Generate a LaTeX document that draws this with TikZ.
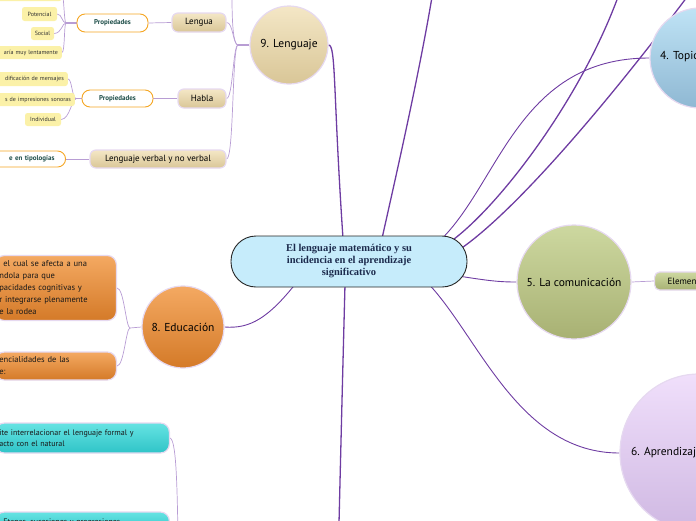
\documentclass[tikz,border=0pt]{standalone}
\usepackage{fontspec}
\setmainfont{PT Sans}
\newfontfamily\hubfont{Liberation Serif}
\usetikzlibrary{positioning,calc,backgrounds}
\definecolor{maincol}{HTML}{6E3CA2}
\definecolor{twigcol}{HTML}{B89DD4}
\definecolor{rimcol}{HTML}{E6D9F0}
\definecolor{skycol}{HTML}{C6ECFB}
\definecolor{hubtext}{HTML}{1C2B4D}
\definecolor{sandtop}{HTML}{F4E7C6}
\definecolor{sandbot}{HTML}{D9C697}
\definecolor{lemoncol}{HTML}{FBF1A8}
\definecolor{ambercol}{HTML}{F5A623}
\definecolor{tealtext}{HTML}{1F4F4A}
\definecolor{oratop}{HTML}{F4A962}
\definecolor{orabot}{HTML}{D47A28}
\definecolor{olivetop}{HTML}{CDD8A0}
\definecolor{olivebot}{HTML}{A8B173}
\definecolor{cyantop}{HTML}{66E3E3}
\definecolor{cyanbot}{HTML}{2FC4C7}
\definecolor{bluetop}{HTML}{BFE3F5}
\definecolor{bluebot}{HTML}{8FB8D3}
\definecolor{lilactop}{HTML}{F0DFFB}
\definecolor{lilacbot}{HTML}{CFB8E2}

\begin{document}
\begin{tikzpicture}[x=1pt,y=-1pt,
  hub/.style={draw=black!85,line width=0.9pt,fill=skycol,rounded corners=25pt,
    minimum width=236pt,minimum height=51pt,align=center,text=hubtext,
    font=\hubfont\bfseries\fontsize{10.5}{12}\selectfont},
  topic/.style={circle,draw=rimcol,line width=1.2pt,inner sep=0pt,font=\fontsize{11.5}{13}\selectfont},
  sandbox/.style={draw=rimcol,line width=1.2pt,rounded corners=6pt,top color=sandtop,
    bottom color=sandbot,inner sep=0pt,font=\fontsize{9}{11}\selectfont},
  propbox/.style={draw=ambercol,line width=0.9pt,fill=white,rounded corners=8pt,inner sep=0pt,
    text=tealtext,font=\bfseries\fontsize{7}{8}\selectfont},
  lemonbox/.style={fill=lemoncol,rounded corners=2.5pt,inner sep=0pt,text=black!80,
    font=\fontsize{6}{7}\selectfont},
  orabox/.style={draw=rimcol,line width=1.2pt,rounded corners=9pt,top color=oratop,
    bottom color=orabot,inner xsep=4pt,inner ysep=0pt,text=black!90,font=\fontsize{8.5}{12}\selectfont},
  cyanbox/.style={draw=rimcol,line width=1.2pt,rounded corners=9pt,top color=cyantop,
    bottom color=cyanbot,inner xsep=4pt,inner ysep=0pt,text=black!90,font=\fontsize{8}{11}\selectfont},
  olivebox/.style={draw=rimcol,line width=1.2pt,rounded corners=5pt,top color=olivetop,
    bottom color=olivebot,inner ysep=0pt,font=\fontsize{9}{11}\selectfont},
  mainline/.style={draw=maincol,line width=1.3pt},
  twig/.style={draw=twigcol,line width=0.7pt}]
\useasboundingbox (0,0) rectangle (696,520);

% centre
\node[hub] (hub) at (349,261.5) {El lenguaje matemático y su\\incidencia en el aprendizaje\\significativo};

% 9. Lenguaje and its children
\node[topic,minimum size=78pt,top color=sandtop,bottom color=sandbot] (lang) at (289,45) {9. Lenguaje};
\node[sandbox,minimum width=54pt,minimum height=19pt] (lengua) at (199,22.5) {Lengua};
\node[sandbox,minimum width=48pt,minimum height=19pt] (habla) at (202,98.5) {Habla};
\node[sandbox,minimum width=136pt,minimum height=18pt] (verbal) at (158,159) {Lenguaje verbal y no verbal};
\node[propbox,minimum width=71pt,minimum height=18pt] (propA) at (112.5,23) {Propiedades};
\node[propbox,minimum width=71pt,minimum height=17pt] (propB) at (117.5,98.5) {Propiedades};
\node[propbox,anchor=east,text width=80pt,align=right,inner xsep=11pt,minimum height=16pt] (tipos) at (66,159) {e en tipologías};
\node[lemonbox,anchor=east,minimum width=80pt,minimum height=14pt] (ltop) at (62,-6) {};
\node[lemonbox,minimum width=35pt,minimum height=14pt] (pot) at (39.5,14) {Potencial};
\node[lemonbox,minimum width=23pt,minimum height=13pt] (soc) at (42.5,33.5) {Social};
\node[lemonbox,anchor=east,text width=70pt,align=right,inner xsep=4pt,minimum height=13pt] (varia) at (62,52.5) {aría muy lentamente};
\node[lemonbox,anchor=east,text width=70pt,align=right,inner xsep=4pt,minimum height=14pt] (codif) at (68,79) {dificación de mensajes};
\node[lemonbox,anchor=east,text width=80pt,align=right,inner xsep=4pt,minimum height=13pt] (sonor) at (75,99.5) {s de impresiones sonoras};
\node[lemonbox,minimum width=36pt,minimum height=13pt] (indiv) at (43,119.5) {Individual};

% 8. Educación
\node[topic,minimum size=82pt,top color=oratop,bottom color=orabot] (edu) at (183,327) {8. Educación};
\node[orabox,anchor=east,text width=113pt,align=left,minimum height=65pt] (eduA) at (117,288)
  {\hspace*{4pt}el cual se afecta a una\\ndola para que\\pacidades cognitivas y\\r integrarse plenamente\\e la rodea};
\node[orabox,anchor=east,text width=113pt,align=left,minimum height=28pt] (eduB) at (117,366) {encialidades de las\\e:};

% bottom left
\node[cyanbox,anchor=east,text width=166pt,align=left,minimum height=30pt] (cyA) at (170,438)
  {ite interrelacionar el lenguaje formal y\\acto con el natural};
\node[cyanbox,anchor=east,text width=166pt,align=left,minimum height=21pt] (cyB) at (170,522.5)
  {\hspace*{4pt}Etapas, sucesiones y progresiones};

% right side
\node[topic,minimum size=114pt,top color=olivetop,bottom color=olivebot] (comm) at (574,282) {5. La comunicación};
\node[olivebox,anchor=west,text width=50pt,align=left,inner xsep=13pt,minimum height=18pt] (elem) at (654,281) {Elementos};
\node[topic,minimum size=100pt,top color=bluetop,bottom color=bluebot] (tpc) at (700,58) {};
\node[anchor=west,inner sep=0pt,font=\fontsize{11.5}{13}\selectfont] (tpctxt) at (660,57) {4. Topic};
\node[topic,minimum size=158pt,top color=lilactop,bottom color=lilacbot] (learn) at (699,453) {};
\node[anchor=west,inner sep=0pt,font=\fontsize{11.5}{13}\selectfont] (learntxt) at (631,453) {6. Aprendizaje};

% free ends and junctions
\coordinate (upA) at (432,-3);
\coordinate (upB) at (618,-3);
\coordinate (upC) at (687,-3);
\coordinate (upE) at (232,-3);
\coordinate (downD) at (339,523);
\coordinate (downF) at (178,535);
\coordinate (jL) at (238,45);
\coordinate (jA) at (66,23);
\coordinate (jB) at (76,98.5);
\coordinate (jE) at (130,328);

\begin{scope}[on background layer]
% branches from the centre
\draw[mainline] ($(hub.north)+(-6,3)$) .. controls (333,90) and (336,45) .. (lang.east);
\draw[mainline] ($(hub.north)+(33,3)$) .. controls (395,180) and (418,80) .. (upA);
\draw[mainline,line width=0.9pt] ($(hub.north)+(93,3)$) .. controls (500,180) and (520,58) .. (tpc.west);
\draw[mainline] ($(hub.north)+(103,5)$) .. controls (500,205) and (580,100) .. (upB);
\draw[mainline] ($(hub.north)+(112,13)$) .. controls (530,200) and (640,60) .. (upC);
\draw[mainline,line width=0.9pt] ($(hub.east)+(-9,14.5)$) .. controls (490,281) and (500,282) .. (comm.west);
\draw[mainline,line width=0.9pt] ($(hub.south)+(81,-2)$) .. controls (480,340) and (520,453) .. (learn.west);
\draw[mainline] ($(hub.south)+(-4,-3)$) .. controls (342,400) .. (downD);
\draw[mainline,line width=0.9pt] ($(hub.south)+(-54,-3)$) .. controls (268,318) and (250,329) .. (edu.east);
% Lenguaje
\draw[twig,line width=1.4pt] (lang.west) -- (jL);
\draw[twig] (lengua.east) .. controls (233,22) and (233,45) .. (jL);
\draw[twig] (habla.east) .. controls (233,98) and (233,45) .. (jL);
\draw[twig] (verbal.east) .. controls (234,159) and (232,45) .. (jL);
\draw[twig] (jL) .. controls (233,45) and (232,20) .. (upE);
\draw[twig] (lengua.west) -- (propA.east);
\draw[twig,line width=1.4pt] (propA.west) -- (jA);
\draw[twig] (ltop.east) .. controls (64,-6) and (64,23) .. (jA);
\draw[twig] (pot.east) .. controls (62,14) and (62,23) .. (jA);
\draw[twig] (soc.east) .. controls (62,33) and (62,23) .. (jA);
\draw[twig] (varia.east) .. controls (65,52) and (64,23) .. (jA);
\draw[twig] (habla.west) -- (propB.east);
\draw[twig,line width=1.4pt] (propB.west) -- (jB);
\draw[twig] (codif.east) .. controls (72,79) and (72,98) .. (jB);
\draw[twig] (sonor.east) -- (jB);
\draw[twig] (indiv.east) .. controls (70,119) and (72,98) .. (jB);
\draw[twig] (verbal.west) -- (tipos.east);
% Educacion
\draw[twig] (edu.west) -- (jE);
\draw[twig] (eduA.east) .. controls (124,288) and (126,328) .. (jE);
\draw[twig] (eduB.east) .. controls (124,366) and (126,328) .. (jE);
% bottom left
\draw[twig] (cyA.east) .. controls (176,440) and (177,480) .. (downF);
\draw[twig] (cyB.east) .. controls (176,522) .. (downF);
% Comunicacion
\draw[twig] (comm.east) -- (elem.west);
\end{scope}
\end{tikzpicture}
\end{document}
